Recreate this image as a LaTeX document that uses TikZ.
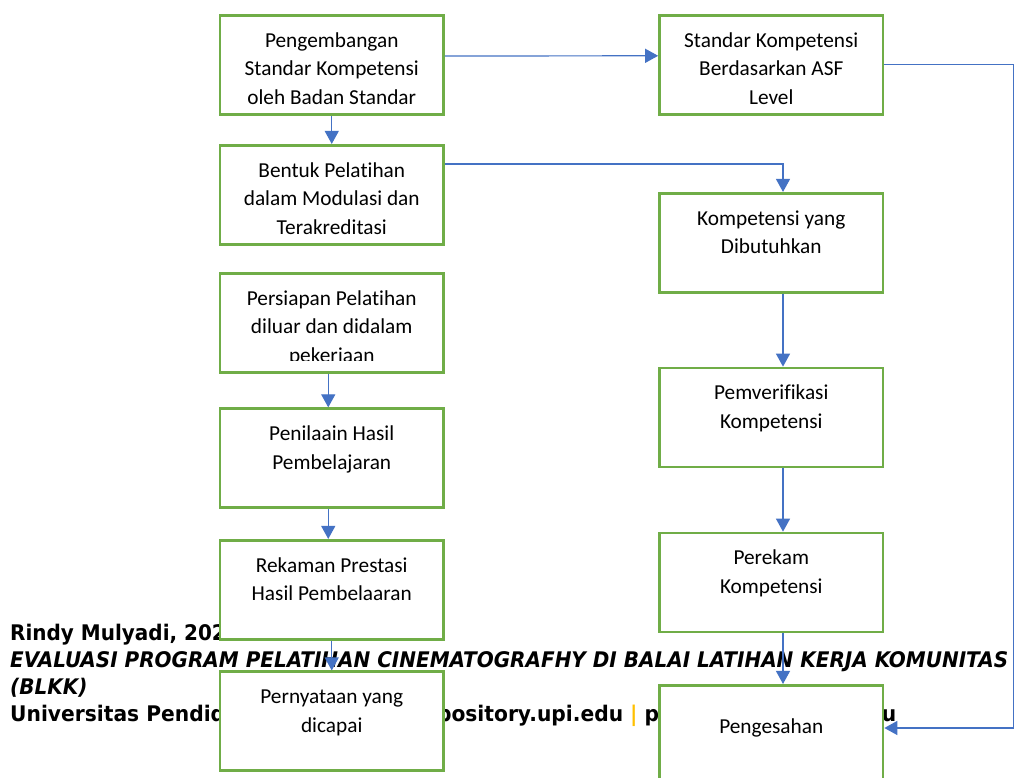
\documentclass[tikz,border=0pt]{standalone}
\usepackage{fontspec}
\usepackage{graphicx}
\setmainfont{Carlito}[Ligatures={TeX,NoCommon}]
\newfontfamily\footfont{DejaVu Sans}
\usetikzlibrary{arrows.meta}
\definecolor{boxgreen}{HTML}{70AD47}
\definecolor{arrblue}{HTML}{4472C4}
\definecolor{sepor}{HTML}{FFC000}
\newsavebox\evalbox
\newsavebox\univbox
\newlength\evalw
\newlength\univw
\begin{document}
\sbox\evalbox{\footfont\fontsize{21.5}{27}\selectfont\bfseries\itshape EVALUASI PROGRAM PELATIHAN CINEMATOGRAFHY DI BALAI LATIHAN KERJA KOMUNITAS}%
\sbox\univbox{\footfont\fontsize{21.5}{27}\selectfont\bfseries Universitas Pendidikan Indonesia | repository.upi.edu | perpustakaan.upi.edu}%
\setlength\evalw{\wd\evalbox}%
\setlength\univw{\wd\univbox}%
\pgfmathsetmacro\fx{998/\evalw}%
\pgfmathsetmacro\fu{886/\univw}%
\begin{tikzpicture}[x=1pt,y=-1pt,
  box/.style={draw=boxgreen, line width=2.7pt, fill=white, minimum width=223.5pt, minimum height=99pt, inner sep=0pt},
  txt/.style={font=\fontsize{21.3}{28.5}\selectfont, align=center, inner sep=0pt, anchor=north, text=black},
  foot/.style={font=\footfont\fontsize{21.5}{27}\selectfont\bfseries, inner sep=0pt, anchor=base west, text=black},
  arr/.style={draw=arrblue, line width=1.2pt, -{Triangle[width=14pt,length=13pt]}}]
\useasboundingbox (0,0) rectangle (1014,778);
\clip (0,0) rectangle (1014,778);
\fill[white] (0,0) rectangle (1014,778);

% footer text (lies under the boxes)
\node[foot] (f1) at (10,640) {\scalebox{\fx}[1]{Rindy Mulyadi, 2020}};
\node[foot] (f2) at (10,667) {\scalebox{\fx}[1]{\itshape EVALUASI PROGRAM PELATIHAN CINEMATOGRAFHY DI BALAI LATIHAN KERJA KOMUNITAS}};
\node[foot] (f3) at (10,694) {\scalebox{\fx}[1]{\itshape (BLKK)}};
\node[foot] (f4) at (10,721) {\scalebox{\fu}[1]{Universitas Pendidikan Indonesia \textcolor{sepor}{|} repository.upi.edu \textcolor{sepor}{|} perpustakaan.upi.edu}};

% left column
\node[box] (l1) at (331.75,65) {};
\node[box] (l2) at (331.75,194.8) {};
\node[box] (l3) at (331.75,322.8) {};
\node[box] (l4) at (331.75,458.2) {};
\node[box] (l5) at (331.75,589.8) {};
\node[box] (l6) at (331.75,721.3) {};
% right column
\node[box] (r1) at (771.25,64.8) {};
\node[box] (r2) at (771.25,242.8) {};
\node[box] (r3) at (771.25,417.5) {};
\node[box] (r4) at (771.25,582.5) {};
\node[box, minimum height=150pt] (r5) at (771.25,760.3) {};

% texts
\node[txt] (l1t) at ([yshift=-13pt]l1.north) {\strut Pengembangan\\Standar Kompetensi\\oleh Badan Standar};
\node[txt] (l2t) at ([yshift=-13pt]l2.north) {\strut Bentuk Pelatihan\\dalam Modulasi dan\\Terakreditasi};
\begin{scope}
\clip (222,272) rectangle (442,360);
\node[txt] (l3t) at ([yshift=-13pt]l3.north) {\strut Persiapan Pelatihan\\diluar dan didalam\\pekerjaan};
\end{scope}
\node[txt] (l4t) at ([yshift=-13pt]l4.north) {\strut Penilaain Hasil\\Pembelajaran};
\node[txt] (l5t) at ([yshift=-13pt]l5.north) {\strut Rekaman Prestasi\\Hasil Pembelaaran};
\node[txt] (l6t) at ([yshift=-13pt]l6.north) {\strut Pernyataan yang\\dicapai};
\node[txt] (r1t) at ([yshift=-13pt]r1.north) {\strut Standar Kompetensi\\Berdasarkan ASF\\Level};
\node[txt] (r2t) at ([yshift=-13pt]r2.north) {\strut Kompetensi yang\\Dibutuhkan};
\node[txt] (r3t) at ([yshift=-13pt]r3.north) {\strut Pemverifikasi\\Kompetensi};
\node[txt] (r4t) at ([yshift=-13pt]r4.north) {\strut Perekam\\Kompetensi};
\node[txt] (r5t) at ([yshift=-29.5pt]r5.north) {\strut Pengesahan};

% connectors
\draw[arr] ([yshift=9pt]l1.east) -- ([yshift=9pt]r1.west);
\draw[arr] (l1.south) -- (l2.north);
\draw[arr] ([yshift=30.8pt]l2.east) -| ([xshift=11.75pt]r2.north);
\draw[arr] ([xshift=-3.5pt]l3.south) -- ([xshift=-3.5pt]l4.north);
\draw[arr] ([xshift=-3.5pt]l4.south) -- ([xshift=-3.5pt]l5.north);
\draw[arr] (l5.south) -- (l6.north);
\draw[arr] ([xshift=11.75pt]r2.south) -- ([xshift=11.75pt]r3.north);
\draw[arr] ([xshift=11.75pt]r3.south) -- ([xshift=11.75pt]r4.north);
\draw[arr] ([xshift=11.75pt]r4.south) -- ([xshift=11.75pt]r5.north);
\coordinate (c1) at (1013.6,64.5);
\coordinate (c2) at (1013.6,728);
\draw[arr] (r1.east |- c1) -- (c1) -- (c2) -- (r5.east |- c2);
\end{tikzpicture}
\end{document}
